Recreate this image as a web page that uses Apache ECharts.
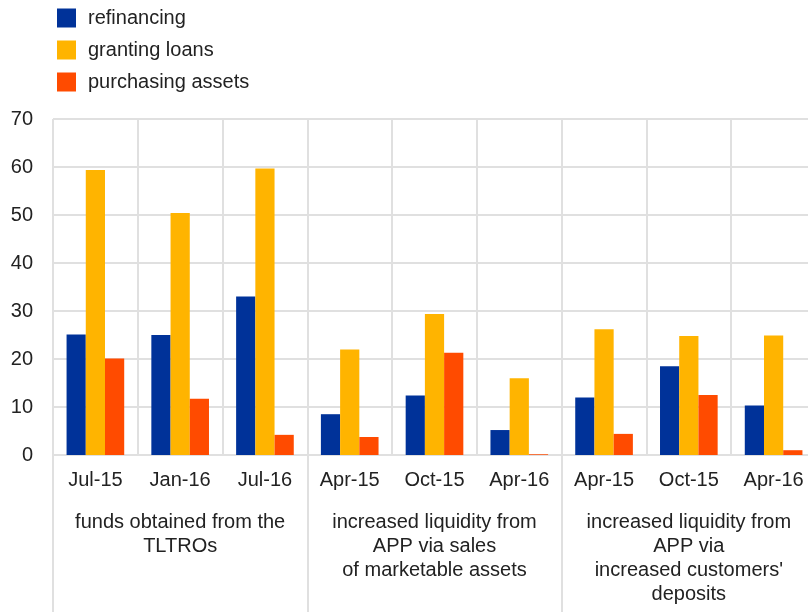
<!DOCTYPE html>
<html>
<head>
<meta charset="utf-8">
<script src="https://cdn.jsdelivr.net/npm/echarts@6/dist/echarts.min.js"></script>
<style>
  html, body { margin: 0; padding: 0; background: #fff; }
  #chart { width: 808px; height: 612px; }
</style>
</head>
<body>
<div id="chart"></div>
<script>
  var categories = ['Jul-15', 'Jan-16', 'Jul-16', 'Apr-15', 'Oct-15', 'Apr-16', 'Apr-15', 'Oct-15', 'Apr-16']
  var groups = [
    'funds obtained from the\nTLTROs',
    'increased liquidity from\nAPP via sales\nof marketable assets',
    'increased liquidity from\nAPP via\nincreased customers\'\ndeposits'
  ]
  var refinancing = [25.1, 25.0, 33.0, 8.5, 12.4, 5.2, 12.0, 18.5, 10.3]
  var grantingLoans = [59.4, 50.4, 59.7, 22.0, 29.4, 16.0, 26.2, 24.8, 24.9]
  var purchasingAssets = [20.1, 11.7, 4.2, 3.75, 21.3, 0.15, 4.4, 12.5, 1.0]
  var yTicks = [0, 10, 20, 30, 40, 50, 60, 70]

  var font = 'Liberation Sans, Arial, sans-serif'
  var textColor = '#222'
  var gridColor = '#e0e0e0'

  var chart = echarts.init(document.getElementById('chart'))
  chart.setOption({
    animation: false,
    textStyle: { fontFamily: font },
    color: ['#003299', '#ffb400', '#ff4b00'],
    legend: {
      orient: 'vertical',
      left: 52,
      top: 3,
      itemWidth: 19,
      itemHeight: 19,
      itemGap: 12,
      icon: 'rect',
      textStyle: { fontSize: 20, color: textColor, padding: [0, 0, 0, 7] }
    },
    // plot area runs a little past the right edge of the picture
    grid: { left: 53, right: -8, top: 119, bottom: 157, outerBoundsMode: 'none' },
    xAxis: [{
      type: 'category',
      data: categories,
      axisLine: { lineStyle: { color: gridColor, width: 2 } },
      axisTick: { show: false },
      splitLine: { show: true, interval: 0, lineStyle: { color: gridColor, width: 2 } },
      axisLabel: { interval: 0, fontSize: 20, color: textColor, margin: 15 }
    }, {
      type: 'category',
      data: groups,
      position: 'bottom',
      axisLine: { show: false },
      axisTick: { show: true, interval: 0, length: 157, lineStyle: { color: gridColor, width: 2 } },
      splitLine: { show: false },
      axisLabel: { interval: 0, fontSize: 20, lineHeight: 24, color: textColor, margin: 55, align: 'center' }
    }],
    yAxis: {
      type: 'value',
      min: yTicks[0],
      max: yTicks[yTicks.length - 1],
      interval: 10,
      axisLine: { show: false },
      axisTick: { show: false },
      splitLine: { lineStyle: { color: gridColor, width: 2 } },
      axisLabel: { fontSize: 20, color: textColor, margin: 20 }
    },
    series: [
      { name: 'refinancing', type: 'bar', data: refinancing, barGap: 0, barCategoryGap: '32%' },
      { name: 'granting loans', type: 'bar', data: grantingLoans, barGap: 0, barCategoryGap: '32%' },
      { name: 'purchasing assets', type: 'bar', data: purchasingAssets, barGap: 0, barCategoryGap: '32%' }
    ]
  })
</script>
</body>
</html>
